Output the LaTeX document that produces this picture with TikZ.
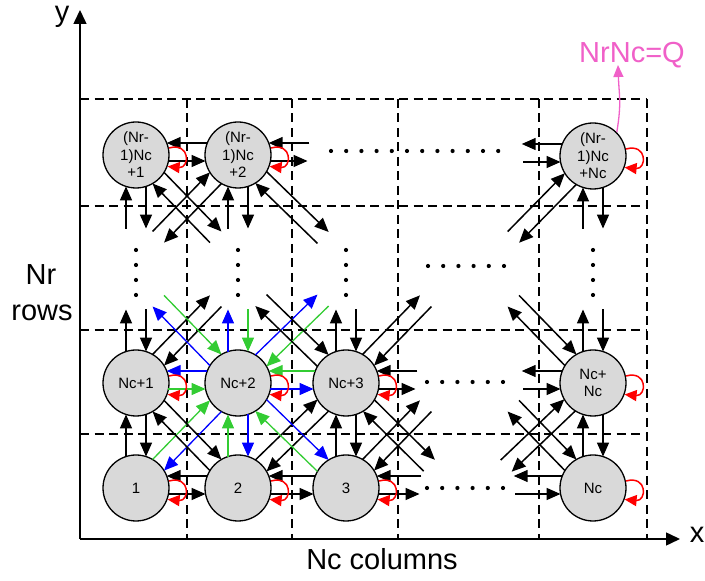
\documentclass[tikz,border=0pt]{standalone}
\usepackage{fontspec}
\setmainfont{Liberation Sans}
\usetikzlibrary{arrows.meta,calc}

\definecolor{nodegray}{RGB}{217,217,217}
\definecolor{linkgreen}{RGB}{51,204,51}
\definecolor{linkblue}{RGB}{0,0,255}
\definecolor{labelpink}{RGB}{240,96,200}

\tikzset{
  cell/.style={circle, draw, line width=1.3pt, fill=nodegray, minimum size=66pt,
    inner sep=0pt, align=center, font=\fontsize{15}{17.5}\selectfont},
  link/.style={line width=1.5pt, -{Triangle[length=14pt,width=12pt]}},
  gl/.style={draw=linkgreen, line width=1.3pt},
  bl/.style={draw=linkblue, line width=1.3pt},
  gridline/.style={dash pattern=on 9pt off 5.5pt, line width=1.3pt},
  selfloop/.style={draw=red, line width=1.5pt, -{Triangle[length=12pt,width=11pt]}},
  bigtext/.style={font=\fontsize{29}{31}\selectfont, inner sep=0pt}
}

% arrow from #2 to #3, shifted #4 pt to the left (\conn) or right (\connR) of its travel,
% cut back to the circle boundaries at both ends
\newcommand\conn[4][]{%
  \pgfmathsetmacro\shrt{sqrt(33*33-(#4)*(#4))}%
  \draw[link,#1,shorten <=\shrt pt,shorten >=\shrt pt]
    ($(#2.center)!#4pt!90:(#3.center)$) -- ($(#3.center)!#4pt!-90:(#2.center)$);}
\newcommand\connR[4][]{%
  \pgfmathsetmacro\shrt{sqrt(33*33-(#4)*(#4))}%
  \draw[link,#1,shorten <=\shrt pt,shorten >=\shrt pt]
    ($(#2.center)!#4pt!-90:(#3.center)$) -- ($(#3.center)!#4pt!90:(#2.center)$);}
\newcommand\selfloopat[1]{%
  \draw[selfloop] (#1.12) .. controls +(22,6) and +(22,-2) .. (#1.-20);}

\begin{document}
\begin{tikzpicture}[x=1pt,y=1pt]
\useasboundingbox (0,0) rectangle (705,581);

% dashed cell grid
\foreach \gx in {187,292,398,539,647}
  \draw[gridline] (\gx,482) -- (\gx,42);
\foreach \gy in {482,375,251,147}
  \draw[gridline] (80,\gy) -- (647,\gy);

% axes
\coordinate (origin) at (80,42);
\coordinate (ytip) at (80,571);
\coordinate (xtip) at (680,42);
\draw[line width=1.5pt,-{Triangle[length=14pt,width=13pt]}] (origin) -- (ytip);
\draw[line width=1.5pt,-{Triangle[length=14pt,width=13pt]}] (origin) -- (xtip);
\node[bigtext,anchor=base] (ylab) at (62,559) {y};
\node[bigtext,anchor=base] (xlab) at (697,38) {x};
\node[bigtext,anchor=base] (nrlab) at (41,296) {Nr};
\node[bigtext,anchor=base] (rowslab) at (42,260) {rows};
\node[bigtext,anchor=base] (collab) at (382,11) {Nc columns};

% processing elements
\node[cell] (n1) at (136,93) {1};
\node[cell] (n2) at (238,93) {2};
\node[cell] (n3) at (346,93) {3};
\node[cell] (nN) at (593,93) {Nc};
\node[cell] (m1) at (136,198) {Nc+1};
\node[cell] (m2) at (238,198) {Nc+2};
\node[cell] (m3) at (346,198) {Nc+3};
\node[cell] (mN) at (593,198) {Nc+\\Nc};
\node[cell] (t1) at (136,426) {(Nr-\\1)Nc\\+1};
\node[cell] (t2) at (238,426) {(Nr-\\1)Nc\\+2};
\node[cell] (tN) at (593,425) {(Nr-\\1)Nc\\+Nc};

% open ends of links that run into the elided parts
\coordinate (a1) at (136,303);
\coordinate (a2) at (238,303);
\coordinate (a3) at (346,303);
\coordinate (a4) at (448,303);
\coordinate (a5) at (491,303);
\coordinate (aN) at (593,303);
\coordinate (b1) at (136,321);
\coordinate (b2) at (238,321);
\coordinate (b3) at (346,321);
\coordinate (b5) at (491,321);
\coordinate (bN) at (593,321);
\coordinate (r1) at (452,93);
\coordinate (r2) at (448,198);
\coordinate (l1) at (483,93);
\coordinate (l2) at (491,198);
\coordinate (rt) at (340,426);
\coordinate (lt) at (491,425);

% horizontal links (eastward below, westward above)
\connR{n1}{n2}{6}   \connR{n2}{n1}{12}
\connR{n2}{n3}{6}   \connR{n3}{n2}{12}
\connR{n3}{r1}{6}   \connR{r1}{n3}{12}
\connR{l1}{nN}{6}   \connR{nN}{l1}{12}
\connR[gl]{m1}{m2}{6}   \connR[bl]{m2}{m1}{12}
\connR[bl]{m2}{m3}{6}   \connR[gl]{m3}{m2}{12}
\connR{m3}{r2}{6}   \connR{r2}{m3}{12}
\connR{l2}{mN}{6}   \connR{mN}{l2}{12}
\connR{t1}{t2}{6}   \connR{t2}{t1}{12}
\connR{t2}{rt}{6}   \connR{rt}{t2}{12}
\connR{lt}{tN}{6}   \connR{tN}{lt}{12}

% vertical links
\conn{n1}{m1}{10}  \conn{m1}{n1}{10}
\conn[gl]{n2}{m2}{10}  \conn[bl]{m2}{n2}{10}
\conn{n3}{m3}{10}  \conn{m3}{n3}{10}
\conn{nN}{mN}{10}  \conn{mN}{nN}{10}
\conn{m1}{a1}{10}  \conn{a1}{m1}{10}
\conn[bl]{m2}{a2}{10}  \conn[gl]{a2}{m2}{10}
\conn{m3}{a3}{10}  \conn{a3}{m3}{10}
\conn{mN}{aN}{10}  \conn{aN}{mN}{10}
\conn{b1}{t1}{10}  \conn{t1}{b1}{10}
\conn{b2}{t2}{10}  \conn{t2}{b2}{10}
\conn{bN}{tN}{10}  \conn{tN}{bN}{10}

% diagonal links
\conn[gl]{n1}{m2}{8}  \conn[bl]{m2}{n1}{8}
\conn{m1}{n2}{8}  \conn{n2}{m1}{8}
\conn{n2}{m3}{8}  \conn{m3}{n2}{8}
\conn[bl]{m2}{n3}{8}  \conn[gl]{n3}{m2}{8}
\conn{n3}{r2}{8}  \conn{r2}{n3}{8}
\conn{m3}{r1}{8}  \conn{r1}{m3}{8}
\conn{mN}{l1}{8}  \conn{l1}{mN}{8}
\conn{nN}{l2}{8}  \conn{l2}{nN}{8}
\conn{m1}{a2}{8}  \conn{a2}{m1}{8}
\conn[bl]{m2}{a1}{8}  \conn[gl]{a1}{m2}{8}
\conn[bl]{m2}{a3}{8}  \conn[gl]{a3}{m2}{8}
\conn{m3}{a2}{8}  \conn{a2}{m3}{8}
\conn{m3}{a4}{8}  \conn{a4}{m3}{8}
\conn{mN}{a5}{8}  \conn{a5}{mN}{8}
\conn{t1}{b2}{8}  \conn{b2}{t1}{8}
\conn{t2}{b1}{8}  \conn{b1}{t2}{8}
\conn{t2}{b3}{8}  \conn{b3}{t2}{8}
\conn{tN}{b5}{8}  \conn{b5}{tN}{8}

% self loops
\foreach \c in {n1,n2,n3,nN,m1,m2,m3,mN,t1,t2,tN}
  \selfloopat{\c};

% ellipses
\foreach \i in {0,...,11}
  \fill ({331+15.2*\i},430) circle (2.1pt);
\foreach \i in {0,...,5} {
  \fill ({428+15.2*\i},315) circle (2.1pt);
  \fill ({427+15.2*\i},199) circle (2.1pt);
  \fill ({427+15.2*\i},93) circle (2.1pt);
}
\foreach \cx in {136,238,346,593}
  \foreach \cy in {331,316,301,286}
    \fill (\cx,\cy) circle (2.1pt);

% total count
\node[bigtext,text=labelpink,anchor=base] (qlab) at (632,518) {NrNc=Q};
\coordinate (qtip) at (618,516);
\draw[draw=labelpink,line width=1.3pt,-{Triangle[length=12pt,width=10pt]}]
  (tN.45) .. controls +(5,30) and +(1,-30) .. (qtip);
\end{tikzpicture}
\end{document}
